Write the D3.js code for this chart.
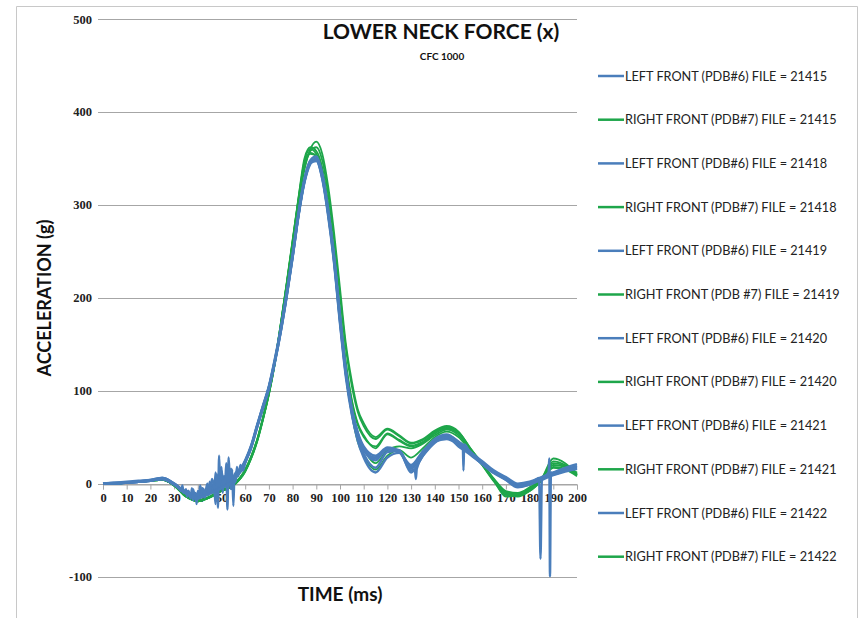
<!DOCTYPE html>
<html><head><meta charset="utf-8">
<script src="https://cdn.jsdelivr.net/npm/d3@7"></script>
<style>body{margin:0;background:#fff}</style>
</head><body>
<svg id="c" width="867" height="618"></svg>
<script>
// ---- DATA ----
const title = "LOWER NECK FORCE (x)";
const subtitle = "CFC 1000";
const xTitle = "TIME (ms)";
const yTitle = "ACCELERATION (g)";
const xTicks = [0,10,20,30,40,50,60,70,80,90,100,110,120,130,140,150,160,170,180,190,200];
const yTicks = [-100,0,100,200,300,400,500];

const time = [0,5,10,15,20,25,30,35,40,45,50,55,60,
  62.5,65,67.5,70,72.5,75,77.5,80,82.5,85,87.5,90,92.5,95,97.5,100,102.5,105,107.5,
  110,115,120,125,130,135,140,145,150,155,160,165,170,175,180,185,190,195,200];

const left21415 = [0,0.5,1,2,3,6,0,-10,-15,-10,-4,4,24,
  40,62,83,104,133,166,204,246,290,326,346,349,330,291,240,176,118,78,52,
  36,28,37,34,20,35,46,50,44,33,22,12,5,-2,0,5,10,14,17];
const right21415 = [0,0,1,2,3,4,-2,-14,-19,-15,-8,-2,14,
  28,46,70,97,130,170,213,258,303,338,360,368,355,320,270,210,150,110,80,
  65,50,59,52,44,48,57,62,56,38,22,5,-8,-10,-4,5,27,22,10];
const left21418 = [0,0,1,2,3,5,-1,-11,-16,-11,-5,3,22,
  38,60,81,102,130,163,201,243,288,324,344,350,333,294,244,180,120,76,46,
  28,12,28,33,14,30,45,52,45,34,23,13,4,-4,-1,4,9,13,16];
const right21418 = [0,0,1,2,3,4,-2,-13,-18,-14,-7,-1,15,
  29,47,71,98,131,172,216,262,308,350,362,358,340,300,245,185,130,90,65,
  52,38,53,46,40,44,54,60,55,38,20,2,-12,-12,-6,4,20,18,12];
const left21419 = [0,1,1,2,4,6,0,-9,-14,-9,-3,5,25,
  41,63,84,105,134,167,205,247,292,328,347,348,328,288,237,172,114,74,48,
  32,17,34,35,16,32,47,51,43,32,21,11,4,-3,-1,6,11,15,19];
const right21419 = [0,0,1,2,3,4,-2,-14,-19,-15,-8,-2,13,
  27,45,69,96,129,170,214,260,306,344,356,352,333,295,240,175,118,75,45,
  30,15,30,36,28,38,50,56,50,35,20,3,-14,-13,-8,3,17,15,8];
const left21420 = [0,0,1,2,3,5,-1,-10,-15,-10,-4,4,23,
  39,61,82,103,131,164,202,244,289,325,345,347,329,290,239,174,117,79,55,
  40,30,39,35,18,33,45,48,42,33,23,13,6,-1,1,6,11,15,18];
const right21420 = [0,0,1,2,3,4,-2,-14,-19,-15,-8,-2,14,
  28,46,70,97,130,171,214,259,304,340,358,362,348,312,262,203,145,105,77,
  62,48,58,51,43,47,56,61,55,37,21,4,-9,-11,-5,5,24,20,9];
const left21421 = [0,1,2,3,4,6,0,-10,-15,-10,-4,4,24,
  40,62,83,104,132,165,203,245,290,327,348,352,334,295,245,180,121,80,53,
  36,25,38,36,12,30,44,50,40,31,21,12,5,-3,0,5,10,14,16];
const right21421 = [0,0,1,2,3,4,-2,-13,-18,-14,-7,-1,15,
  29,47,71,98,131,172,215,261,307,347,360,355,337,298,243,183,128,88,63,
  50,40,54,47,41,45,55,59,54,37,21,3,-10,-12,-6,4,22,19,11];
const left21422 = [0,0,1,2,3,5,-1,-11,-16,-11,-5,3,23,
  39,61,82,103,131,164,202,244,289,325,345,348,331,292,242,178,120,80,54,
  38,27,37,34,17,34,48,53,45,34,24,14,7,0,2,7,12,17,21];
const right21422 = [0,0,1,2,3,4,-2,-14,-19,-15,-8,-2,13,
  27,45,69,96,129,169,212,258,304,342,355,353,335,297,243,180,122,80,52,
  38,22,36,40,38,43,52,58,52,36,21,4,-11,-14,-8,3,18,16,9];

// noisy stretches and spikes ([time, value])
const left21418Noise = [[32,-4],[33,-8],[33.5,-2],[34,-10],[35,-6],[35.5,-14],[36,-8],[37,-16],[37.5,-5],[38,-18],
  [39,-10],[39.5,-22],[40,-8],[40.5,-16],[41,-2],[42,-14],[42.5,-6],[43,-15],[44,-4],[44.5,-12],[45,2],[46,-10],
  [46.5,0],[47,-8],[47.5,12],[48,-4],[48.5,-26],[49,30],[49.5,-6],[50,18],[50.5,-10],[51,8],[51.5,-2],[52,22],
  [52.5,-28],[53,28],[53.5,4],[54,-6],[54.5,15],[55,-24],[55.5,10],[56,2],[56.5,18],[57,8],[58,20],[59,14]];
const left21420Noise = [[36,-8],[37,-14],[38,-6],[39,-17],[40,-10],[41,-15],[42,-5],[43,-12],[44,0],[45,-9],
  [46,5],[47,-6],[47.5,-22],[48,10],[49,-3],[50,14],[51,-4],[52,10],[53,-1],[54,16],[55,3],[56,12],[57,10]];
const left21415Spike = [[151.8,42],[152.1,14],[152.4,42]];
const left21418Spike = [[131.6,15],[132,5],[132.4,16]];
const left21419Spike = [[184,6],[184.6,-81],[185.2,6]];
const left21421Spike = [[188,12],[188.3,27],[188.6,-100],[189,12]];

const seriesNames = [
  "LEFT FRONT (PDB#6) FILE = 21415","RIGHT FRONT (PDB#7) FILE = 21415",
  "LEFT FRONT (PDB#6) FILE = 21418","RIGHT FRONT (PDB#7) FILE = 21418",
  "LEFT FRONT (PDB#6) FILE = 21419","RIGHT FRONT (PDB #7) FILE = 21419",
  "LEFT FRONT (PDB#6) FILE = 21420","RIGHT FRONT (PDB#7) FILE = 21420",
  "LEFT FRONT (PDB#6) FILE = 21421","RIGHT FRONT (PDB#7) FILE = 21421",
  "LEFT FRONT (PDB#6) FILE = 21422","RIGHT FRONT (PDB#7) FILE = 21422"];
const seriesValues = [left21415,right21415,left21418,right21418,left21419,right21419,
  left21420,right21420,left21421,right21421,left21422,right21422];
const seriesExtras = [[left21415Spike],[],[left21418Noise,left21418Spike],[],[left21419Spike],[],
  [left21420Noise],[],[left21421Spike],[],[],[]];
const blue = "#4a7ebb", green = "#1ea64a";

// ---- DRAW ----
const svg = d3.select("#c");
const x = d3.scaleLinear().domain([0,200]).range([103,577]);
const y = d3.scaleLinear().domain([-100,500]).range([576.5,19]);

// outer frame
svg.append("path").attr("d","M16.5,620 V6.5 H857.5 V620").attr("fill","none").attr("stroke","#c8c8c8").attr("stroke-width",1);

// gridlines
svg.append("g").selectAll("line").data(yTicks).join("line")
  .attr("x1",98).attr("x2",x(200)).attr("y1",d=>Math.round(y(d))+0.5).attr("y2",d=>Math.round(y(d))+0.5)
  .attr("stroke","#a6a6a6").attr("stroke-width",1);
// y tick labels
svg.append("g").selectAll("text").data(yTicks).join("text")
  .attr("x",92).attr("y",d=>y(d)+4.5).attr("text-anchor","end")
  .attr("font-family","Liberation Serif").attr("font-weight","bold").attr("font-size",12.5).attr("fill","#222")
  .text(d=>d);

// x axis at zero
const xAxis = d3.axisBottom(x).tickValues(xTicks).tickSize(5).tickPadding(4).tickFormat(d3.format("d"));
const gx = svg.append("g").attr("transform",`translate(0,${Math.round(y(0))+0.5})`).call(xAxis);
gx.select(".domain").attr("stroke","#a6a6a6");
gx.selectAll(".tick line").attr("stroke","#a6a6a6");
gx.selectAll(".tick text").attr("font-family","Liberation Serif").attr("font-weight","bold").attr("font-size",12.5).attr("fill","#222");

// series
const line = d3.line().x(d=>x(d[0])).y(d=>y(d[1])).curve(d3.curveMonotoneX);
function buildSeries(i){
  let pts = time.map((t,j)=>[t,seriesValues[i][j]]);
  seriesExtras[i].forEach(ex=>{
    const lo = d3.min(ex,d=>d[0]), hi = d3.max(ex,d=>d[0]);
    pts = pts.filter(p=>p[0]<lo||p[0]>hi).concat(ex);
  });
  return pts.sort((a,b)=>a[0]-b[0]);
}
const order = [1,3,5,7,9,11,0,2,4,6,8,10];
svg.append("defs").append("clipPath").attr("id","clip").append("rect")
  .attr("x",x(0)-2).attr("y",y(500)).attr("width",x(200)-x(0)+4).attr("height",y(-100)-y(500)+1);
const gl = svg.append("g").attr("clip-path","url(#clip)");
order.forEach(i=>{
  gl.append("path").datum(buildSeries(i)).attr("d",line).attr("fill","none")
    .attr("stroke",i%2===0?blue:green).attr("stroke-width",i%2===0?2.4:1.8).attr("stroke-linejoin","round");
});

// titles
svg.append("text").attr("x",441).attr("y",39).attr("text-anchor","middle")
  .attr("font-family","Lato").attr("font-weight","bold").attr("font-size",21).attr("fill","#111").text(title);
svg.append("text").attr("x",442).attr("y",60).attr("text-anchor","middle")
  .attr("font-family","Lato").attr("font-weight","bold").attr("font-size",10).attr("fill","#111").text(subtitle);
svg.append("text").attr("x",340).attr("y",601).attr("text-anchor","middle")
  .attr("font-family","Lato").attr("font-weight","bold").attr("font-size",19).attr("fill","#111").text(xTitle);
svg.append("text").attr("transform","translate(51,298) rotate(-90)").attr("text-anchor","middle")
  .attr("font-family","Lato").attr("font-weight","bold").attr("font-size",18).attr("fill","#111").text(yTitle);

// legend
const lg = svg.append("g").selectAll("g").data(seriesNames).join("g")
  .attr("transform",(d,i)=>`translate(598,${76+i*43.7})`);
lg.append("line").attr("x1",0).attr("x2",26).attr("y1",0).attr("y2",0)
  .attr("stroke",(d,i)=>i%2===0?blue:green).attr("stroke-width",2.5);
lg.append("text").attr("x",27).attr("y",4.5).attr("font-family","Lato").attr("font-size",12.7).attr("fill","#222").text(d=>d);
</script>
</body></html>
